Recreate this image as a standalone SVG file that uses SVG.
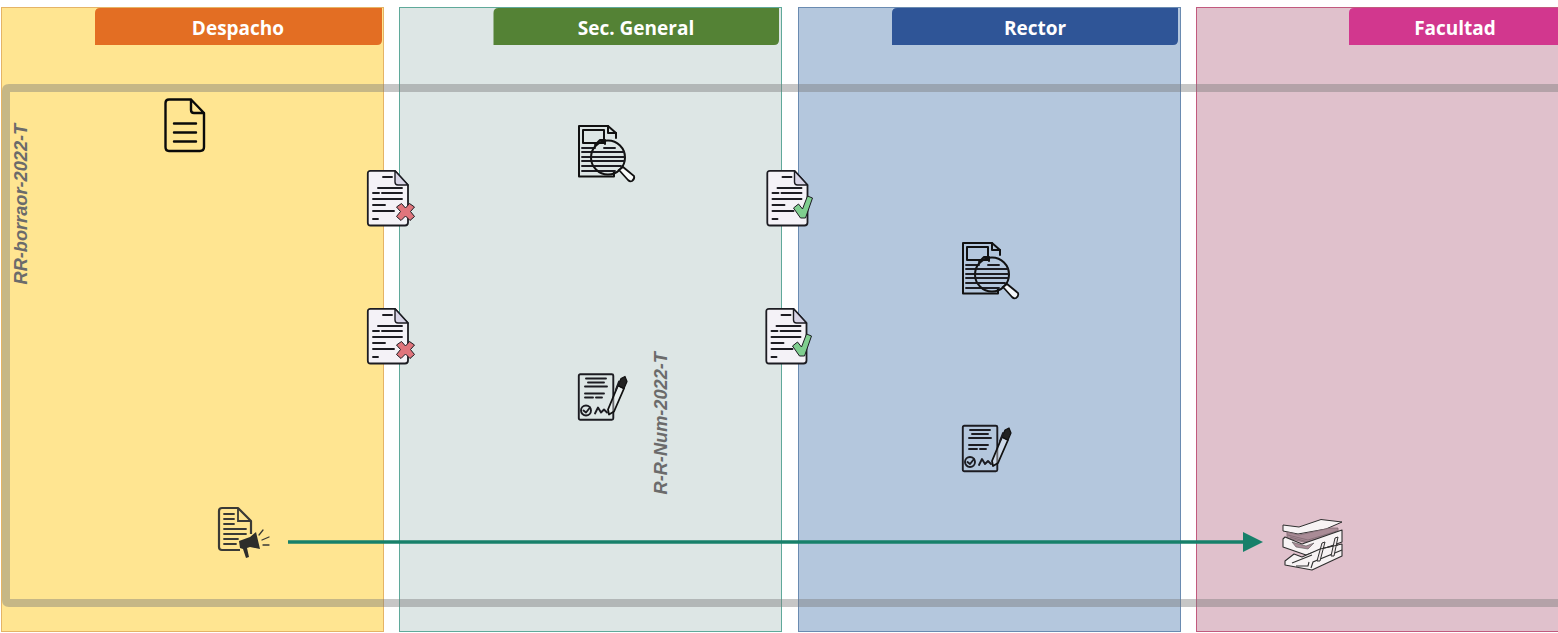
<svg xmlns="http://www.w3.org/2000/svg" width="1558" height="633" viewBox="0 0 1558 633">
<style>
.lane{stroke-width:1}
.hdr{font:700 19px "Open Sans","Noto Sans",sans-serif;fill:#fff;text-anchor:middle}
.vt{font:italic 700 18.200px "Liberation Sans",Arial,sans-serif;fill:#6b6b6b}
.ink{fill:none;stroke:#111;stroke-width:2;stroke-linecap:round;stroke-linejoin:round}
.k2{fill:none;stroke:#1c1c22;stroke-width:1.900;stroke-linecap:round;stroke-linejoin:round}
.paper{fill:#f4f2f7;stroke:#1c1c22;stroke-width:1.800;stroke-linejoin:round}
</style>
<defs>
<g id="paper">
<path class="paper" d="M3.500 .8H28L41 15V52.500Q41 55.500 38 55.500H3.500Q.8 55.500 .8 52.500V3.500Q.8 .8 3.500 .8Z"/>
<path d="M28 .8L41 15H31Q28 15 28 12Z" fill="#d9d6e8" stroke="#1c1c22" stroke-width="1.400" stroke-linejoin="round"/>
<path class="k2" d="M16 7H25M11 18H35M6 23H12M15 23H35M6 29H35M6 35H18M6 41H27M6 49H11"/>
</g>
<g id="pdel">
<use href="#paper"/>
<path d="M0-3.500 4-8 9-4.500 5 0 9 5 4.500 9 0 4.500-4.500 9-9 5-5 0-9-4.500-4-8Z" transform="translate(38.500 41.500)" fill="#e0757c" stroke="#1c1c22" stroke-width="1"/>
</g>
<g id="pok">
<use href="#paper"/>
<path d="M27 38 32 34 36 39 41 26 46 28 39 48H34Z" fill="#7fce8f" stroke="#1c1c22" stroke-width="1"/>
</g>
<g id="review">
<path class="ink" d="M10 51.500H1V1H30L38 8V13M36 46V51.500H10"/>
<path class="ink" d="M30 1V8H38"/>
<rect class="ink" x="5" y="5" width="21" height="13"/>
<path class="k2" d="M4 23H17M4 27H15M4 32H14M4 36H14M4 41H17M4 46H29"/>
<circle class="ink" cx="30" cy="32.500" r="17"/>
<path class="k2" d="M26 23H37M15 27H46M14 32H46M14 36H46M16 41H43M22 46H37"/>
<path class="ink" d="M17 20 22 15H27V19"/>
<path d="M41 45 45 42 56 51Q57 54 54 56 52 57 50 55Z" fill="#fff" fill-opacity=".85" stroke="#111" stroke-width="1.800"/>
</g>
<g id="sign">
<rect class="k2" x=".8" y=".8" width="34.500" height="45.500" rx="1.500"/>
<path class="k2" stroke-width="2.200" d="M8 5H28M10 9H26M7 13H29M7 20H26M7 24H15M18 24H24"/>
<circle class="k2" cx="8" cy="37" r="5"/>
<path class="k2" d="M5.500 37 8 39 12 34M17 40 20 34 23 39 26 36 29 39"/>
<path d="M30 36 40 12 46 15 36 38 31 41Z" fill="#fff" fill-opacity=".35" stroke="#111" stroke-width="1.800" stroke-linejoin="round"/>
<path d="M40 12 43 5 47 3 49 8 46 15Z" fill="#222" stroke="#111" stroke-width="1.200" stroke-linejoin="round"/>
<path class="k2" d="M41 8 38 16"/>
</g>
<g id="announce">
<path fill="none" stroke="#3a3a36" stroke-width="2.200" stroke-linejoin="round" d="M22 43H4Q1 43 1 40V4Q1 1 4 1H20L33 14V27"/>
<path fill="none" stroke="#3a3a36" stroke-width="1.800" d="M20 1V14H33"/>
<path fill="none" stroke="#3a3a36" stroke-width="1.800" stroke-linecap="round" d="M6 7H16M6 12H16M6 17H16M6 22H28M6 27H28M6 32H20M6 37H18"/>
<path fill="#2d2d2b" d="M21 34 32 30 38 25 42 42 32 40 29 41 31 50 28 51 25 42 22 41Z"/>
<path fill="none" stroke="#3a3a36" stroke-width="1.300" stroke-linecap="round" d="M41 28 45 23M44 33 51 30M45 38H51"/>
</g>
<g id="tray">
<path fill="#f7f3f4" stroke="#2f2f2f" stroke-width="1" stroke-linejoin="round" d="M1 6 17 8 39 .5 60 3 44 10 16 15 1 12Z"/>
<path fill="#a98b96" stroke="#7f6a72" stroke-width=".8" d="M5 13 17 16 48 9 56 9V17L26 24 5 19Z"/>
<path fill="none" stroke="#7f6a72" stroke-width=".8" d="M6 16 26 21 55 12M8 18 26 23 55 14"/>
<path fill="#f7f3f4" stroke="#2f2f2f" stroke-width="1.100" stroke-linejoin="round" d="M1 20 3 18 20 25 60 11V23L24 36 1 28Z"/>
<path fill="#a98b96" stroke="#555" stroke-width=".6" d="M10 23 24 27 32 24 26 30 14 28Z"/>
<path fill="#f7f3f4" stroke="#2f2f2f" stroke-width="1.100" stroke-linejoin="round" d="M3 42 12 35 20 38 38 30 60 25V37L30 51 3 46Z"/>
<path fill="none" stroke="#2f2f2f" stroke-width="1.100" d="M10 44 30 36M14 47H26L27 43M29 49 31 43 60 31"/>
<path fill="#f0e8ea" stroke="#2f2f2f" stroke-width="1" d="M40 24 43 23 38 42 35 42ZM53 19 56 18 52 37 49 37Z"/>
<path fill="none" stroke="#2f2f2f" stroke-width="1" d="M38 30 56 26"/>
</g>
</defs>

<g id="lane-despacho">
<rect class="lane" x="1.500" y="7.500" width="382" height="624" fill="#ffe591" stroke="#e5b466"/>
<path d="M100 8H382V40Q382 45 377 45H95V13Q95 8 100 8Z" fill="#e36e23"/>
<text class="hdr" x="238" y="34.500">Despacho</text>
</g>
<g id="lane-sec-general">
<rect class="lane" x="399.500" y="7.500" width="382" height="624" fill="#dde6e5" stroke="#5fa99a"/>
<path d="M498.500 8H779V40Q779 45 774 45H493.500V13Q493.500 8 498.500 8Z" fill="#548235"/>
<text class="hdr" x="636" y="34.500">Sec. General</text>
</g>
<g id="lane-rector">
<rect class="lane" x="798.500" y="7.500" width="382" height="624" fill="#b4c7dd" stroke="#6a8bb1"/>
<path d="M897 8H1178V40Q1178 45 1173 45H892V13Q892 8 897 8Z" fill="#2f5597"/>
<text class="hdr" x="1035" y="34.500">Rector</text>
</g>
<g id="lane-facultad">
<rect class="lane" x="1196.500" y="7.500" width="370" height="624" fill="#e0c1cc" stroke="#c25a7e"/>
<path d="M1354 8H1558V45H1349V13Q1349 8 1354 8Z" fill="#d2378e"/>
<text class="hdr" x="1455" y="34.500">Facultad</text>
</g>

<g id="band">
<path d="M1558 88H9Q6 88 6 91V600Q6 603 9 603H1558" fill="none" stroke="#777" stroke-opacity=".42" stroke-width="8"/>
<text class="vt" transform="translate(26.500 284.500) rotate(-90)">RR-borraor-2022-T</text>
<text class="vt" transform="translate(667 494.500) rotate(-90)">R-R-Num-2022-T</text>
</g>

<g id="connectors">
<path d="M288 542H1245" fill="none" stroke="#17806a" stroke-width="3.500"/>
<path d="M1243 532 1263 542 1243 552Z" fill="#17806a"/>
</g>

<g id="n-borrador" transform="translate(165 99)">
<path fill="none" stroke="#0a0a0a" stroke-width="2.400" stroke-linejoin="round" stroke-linecap="round" d="M4 .5H26L39 14V48Q39 52 35 52H4Q.5 52 .5 48V4Q.5 .5 4 .5ZM26 .5V11Q26 14 29 14H39M9 24.500H31M9 33.500H31M9 42.500H31"/>
</g>
<g id="n-rechazo-1" transform="translate(367 170)"><use href="#pdel"/></g>
<g id="n-rechazo-2" transform="translate(367 308)"><use href="#pdel"/></g>
<g id="n-aprobado-1" transform="translate(766.500 170)"><use href="#pok"/></g>
<g id="n-aprobado-2" transform="translate(765.500 308)"><use href="#pok"/></g>
<g id="n-revision-sg" transform="translate(578 125)"><use href="#review"/></g>
<g id="n-revision-rector" transform="translate(962 242)"><use href="#review"/></g>
<g id="n-firma-sg" transform="translate(578 373.500)"><use href="#sign"/></g>
<g id="n-firma-rector" transform="translate(962 425)"><use href="#sign"/></g>
<g id="n-publicar" transform="translate(218 507)"><use href="#announce"/></g>
<g id="n-archivo" transform="translate(1282 519)"><use href="#tray"/></g>
</svg>
